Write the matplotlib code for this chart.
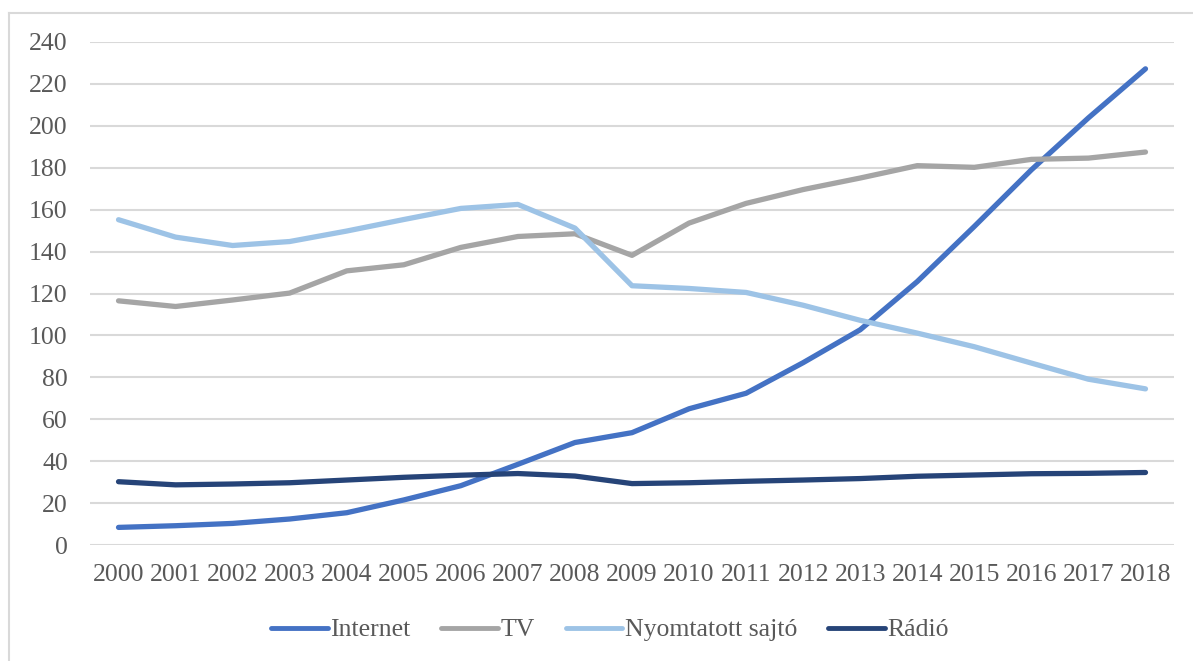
import matplotlib
matplotlib.use("Agg")
import matplotlib.pyplot as plt
from matplotlib.lines import Line2D

years = [str(y) for y in range(2000, 2019)]

internet = [8.4, 9.2, 10.3, 12.4, 15.4, 21.5, 28.3, 38.5, 48.9, 53.6, 65.0,
            72.4, 87.0, 102.7, 125.7, 152.0, 179.0, 203.8, 227.2]
tv = [116.5, 113.8, 116.9, 120.2, 130.8, 133.7, 142.0, 147.2, 148.5, 138.2,
      153.6, 163.0, 169.6, 175.1, 181.0, 180.2, 184.0, 184.6, 187.5]
nyomtatott = [155.2, 146.9, 142.9, 144.8, 149.8, 155.3, 160.6, 162.5, 151.2,
              123.7, 122.4, 120.5, 114.4, 107.2, 101.1, 94.6, 86.8, 79.1, 74.5]
radio = [30.2, 28.7, 29.1, 29.7, 31.0, 32.3, 33.3, 34.1, 32.9, 29.3, 29.7,
         30.4, 31.0, 31.7, 32.8, 33.4, 34.0, 34.2, 34.6]

series = [
    ("Internet", internet, "#4472C4"),
    ("TV", tv, "#A5A5A5"),
    ("Nyomtatott sajtó", nyomtatott, "#9DC3E6"),
    ("Rádió", radio, "#264478"),
]

plt.rcParams["font.family"] = ["Liberation Serif", "DejaVu Serif"]
text_color = "#595959"

fig = plt.figure(figsize=(11.93, 6.61), dpi=100)
W, H = 1193, 661
left, right, top, bottom = 90, 1174, 42, 545
ax = fig.add_axes([left / W, 1 - bottom / H, (right - left) / W, (bottom - top) / H])

x = list(range(len(years)))
for name, vals, col in series:
    ax.plot(x, vals, color=col, lw=3.8, solid_capstyle="round",
            solid_joinstyle="round", label=name, zorder=3)

ax.set_xlim(-0.5, len(years) - 0.5)
ax.set_ylim(0, 240)
ax.set_yticks(range(0, 241, 20))
ax.set_xticks(x)
ax.set_xticklabels(years)
ax.yaxis.grid(True, color="#D9D9D9", lw=1.5, zorder=0)
ax.xaxis.grid(False)
for s in ax.spines.values():
    s.set_visible(False)
ax.tick_params(axis="both", length=0, labelsize=18.5, colors=text_color)
ax.tick_params(axis="y", pad=16)
ax.tick_params(axis="x", pad=14)

handles = [Line2D([0], [0], color=c, lw=3.5, solid_capstyle="round") for _, _, c in series]
fig.legend(handles, [n for n, _, _ in series], loc="center",
           bbox_to_anchor=(610 / W, 1 - 630 / H), ncol=4, frameon=False,
           fontsize=18.5, labelcolor=text_color, handlelength=2.2,
           handletextpad=0.1, columnspacing=1.2)

# outer chart frame
fig.add_artist(Line2D([9 / W, 9 / W], [0, 1 - 13 / H], color="#D9D9D9", lw=1.5,
                      transform=fig.transFigure))
fig.add_artist(Line2D([9 / W, 1], [1 - 13 / H, 1 - 13 / H], color="#D9D9D9", lw=1.5,
                      transform=fig.transFigure))

fig.savefig("out.png", dpi=100)
